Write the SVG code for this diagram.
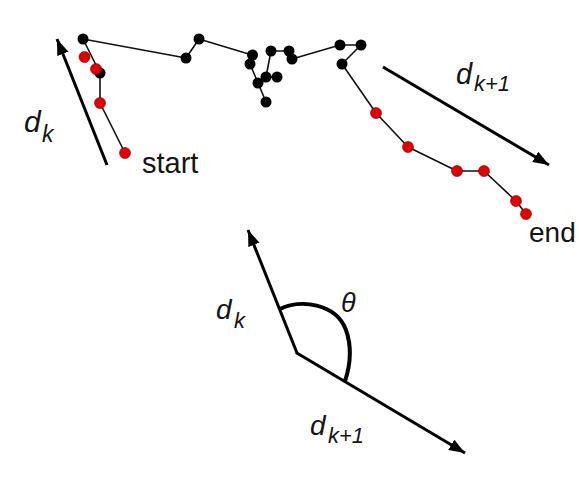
<svg xmlns="http://www.w3.org/2000/svg" width="579" height="478" viewBox="0 0 579 478">
<defs>
<style>
.traj{fill:none;stroke:#111;stroke-width:1.6;stroke-linejoin:round}
.blk{fill:#000}
.red{fill:#e00000;stroke:#700;stroke-width:0.6}
.vec{fill:none;stroke:#000;stroke-width:3}
.arc{fill:none;stroke:#000;stroke-width:4}
.lbl{font-family:"Liberation Sans",Arial,sans-serif;fill:#151515}
.it{font-style:italic}
</style>
<marker id="ah" markerUnits="userSpaceOnUse" markerWidth="18" markerHeight="14" refX="16" refY="6" orient="auto">
<path d="M0,0 L16,6 L0,12 Z" fill="#000"/>
</marker>
</defs>
<rect width="579" height="478" fill="#ffffff"/>
<g id="connectors">
<polyline class="traj" points="125,153 100,103 100,73 83,39 186,58 199,39 252,55 250,64 258,83 266,77 271,51 289,51 292,59 340,45 361,45 342,64 376,113 408,147 457,171 484,171 516,201 526,214"/>
<line class="traj" x1="258" y1="83" x2="266" y2="102"/>
<line class="traj" x1="266" y1="77" x2="277" y2="77"/>
<line class="vec" x1="107" y1="165" x2="57" y2="39" marker-end="url(#ah)"/>
<line class="vec" x1="383" y1="67" x2="549" y2="165" marker-end="url(#ah)"/>
<line class="vec" x1="297" y1="353" x2="248" y2="230" marker-end="url(#ah)"/>
<line class="vec" x1="296" y1="352.5" x2="465" y2="453" marker-end="url(#ah)"/>
<path class="arc" d="M280,309 C300,299 336,303 346,330 C352,347 350,366 345,381"/>
</g>
<g id="black-points">
<circle class="blk" cx="83" cy="39" r="5.5"/>
<circle class="blk" cx="100" cy="73" r="5.5"/>
<circle class="blk" cx="186" cy="58" r="5.5"/>
<circle class="blk" cx="199" cy="39" r="5.5"/>
<circle class="blk" cx="252.5" cy="55" r="5.5"/>
<circle class="blk" cx="250" cy="64" r="5.5"/>
<circle class="blk" cx="258" cy="83" r="5.5"/>
<circle class="blk" cx="266" cy="77" r="5.5"/>
<circle class="blk" cx="277" cy="77" r="5.5"/>
<circle class="blk" cx="266" cy="102" r="5.5"/>
<circle class="blk" cx="271" cy="51" r="5.5"/>
<circle class="blk" cx="289" cy="51" r="5.5"/>
<circle class="blk" cx="292" cy="59" r="5.5"/>
<circle class="blk" cx="340" cy="45" r="5.5"/>
<circle class="blk" cx="361" cy="45" r="5.5"/>
<circle class="blk" cx="342" cy="64" r="5.5"/>
</g>
<g id="red-points">
<circle class="red" cx="84.5" cy="57" r="5.5"/>
<circle class="red" cx="96" cy="69" r="5.5"/>
<circle class="red" cx="100" cy="103" r="5.5"/>
<circle class="red" cx="125" cy="153" r="5.5"/>
<circle class="red" cx="376" cy="113" r="5.5"/>
<circle class="red" cx="408" cy="147" r="5.5"/>
<circle class="red" cx="457" cy="171" r="5.5"/>
<circle class="red" cx="484" cy="171" r="5.5"/>
<circle class="red" cx="516" cy="201" r="5.5"/>
<circle class="red" cx="526" cy="214" r="5.5"/>
</g>
<g id="labels">
<text class="lbl it" x="24" y="132" font-size="30">d</text>
<text class="lbl it" x="42" y="142" font-size="23">k</text>
<text class="lbl" x="142" y="173" font-size="29">start</text>
<text class="lbl it" x="456" y="84" font-size="29">d</text>
<text class="lbl it" x="474" y="91" font-size="22">k+1</text>
<text class="lbl" x="529" y="242" font-size="28">end</text>
<text class="lbl it" x="216" y="319" font-size="28">d</text>
<text class="lbl it" x="234" y="328" font-size="22">k</text>
<text class="lbl it" x="341" y="312" font-size="27">θ</text>
<text class="lbl it" x="310" y="435" font-size="28">d</text>
<text class="lbl it" x="328" y="443" font-size="22">k+1</text>
</g>
</svg>
